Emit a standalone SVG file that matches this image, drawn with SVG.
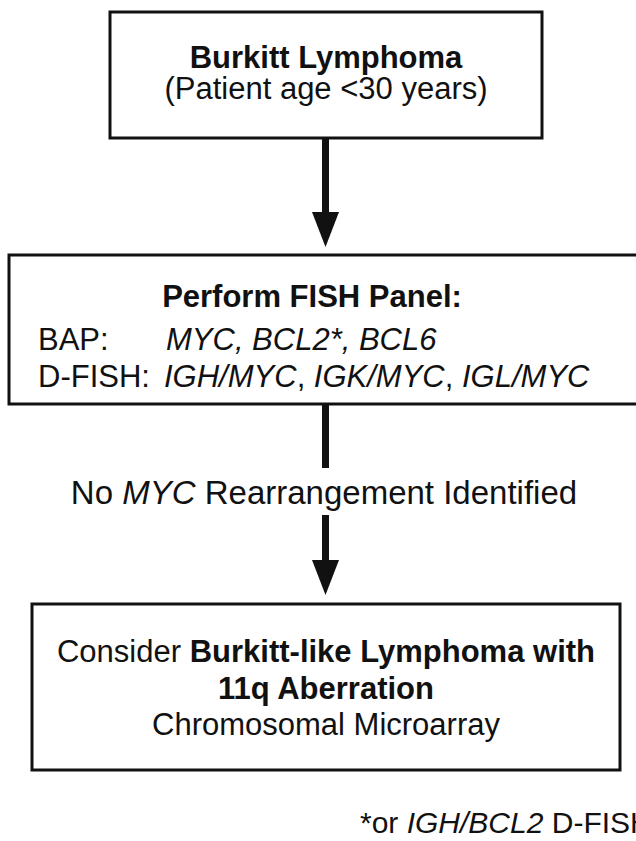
<svg xmlns="http://www.w3.org/2000/svg" width="636" height="841" viewBox="0 0 636 841">
<style>
.box{fill:#fff;stroke:#111;stroke-width:3}
text{font-family:"Liberation Sans",Arial,Helvetica,sans-serif;font-size:31px;fill:#111}
.b{font-weight:bold}
.i{font-style:italic}
.c{text-anchor:middle}
.conn{stroke:#111;stroke-width:7;fill:none}
</style>
<defs>
<marker id="ah" viewBox="0 0 35 27" refX="3" refY="13.5" markerWidth="35" markerHeight="27" markerUnits="userSpaceOnUse" orient="auto">
<path d="M0,0 L35,13.5 L0,27 z" fill="#111"/>
</marker>
</defs>
<rect width="636" height="841" fill="#fff"/>
<g id="connectors">
<line class="conn" x1="325.5" y1="139" x2="325.5" y2="215" marker-end="url(#ah)"/>
<line class="conn" x1="325.5" y1="405" x2="325.5" y2="468"/>
<line class="conn" x1="325.5" y1="515" x2="325.5" y2="563" marker-end="url(#ah)"/>
<text class="c" x="324" y="504" style="font-size:33px">No <tspan class="i">MYC</tspan> Rearrangement Identified</text>
</g>
<g id="node-burkitt">
<rect class="box" x="110" y="12" width="432" height="126"/>
<text class="c b" x="326" y="68">Burkitt Lymphoma</text>
<text class="c" x="326" y="99">(Patient age &lt;30 years)</text>
</g>
<g id="node-fish">
<rect class="box" x="9" y="255" width="634" height="149"/>
<text class="c b" x="312" y="307">Perform FISH Panel:</text>
<text x="38" y="350">BAP:</text>
<text class="i" x="166" y="350">MYC, BCL2*, BCL6</text>
<text x="38" y="387">D-FISH:</text>
<text x="164" y="387"><tspan class="i">IGH/MYC</tspan>, <tspan class="i">IGK/MYC</tspan>, <tspan class="i">IGL/MYC</tspan></text>
</g>
<g id="node-consider">
<rect class="box" x="32" y="604" width="588" height="166"/>
<text class="c" x="326" y="662">Consider <tspan class="b">Burkitt-like Lymphoma with</tspan></text>
<text class="c b" x="326" y="699">11q Aberration</text>
<text class="c" x="326" y="735">Chromosomal Microarray</text>
</g>
<g id="footnote">
<text x="360" y="833" style="font-size:30px">*or <tspan class="i">IGH/BCL2</tspan> D-FISH</text>
</g>
</svg>
